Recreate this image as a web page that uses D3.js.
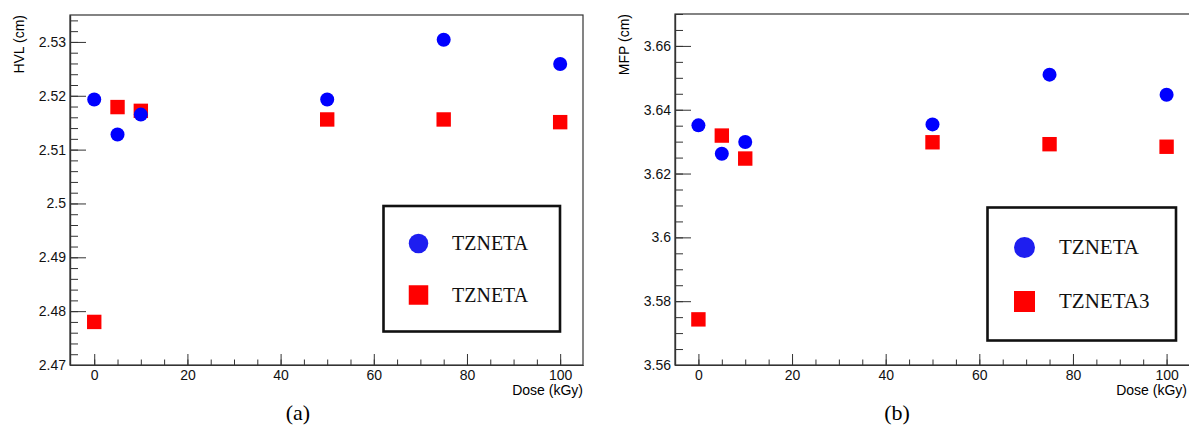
<!DOCTYPE html>
<html>
<head>
<meta charset="utf-8">
<script src="https://cdn.jsdelivr.net/npm/d3@7"></script>
<style>
  body { margin: 0; background: #fff; }
  svg { display: block; }
  .axis text { font-family: "Liberation Sans", Arial, sans-serif; font-size: 14px; fill: #111; }
  .axis path, .axis line { stroke: #333; }
</style>
</head>
<body>
<script>
// doses (kGy) where each sample was measured
var doses = [0, 5, 10, 50, 75, 100];

// panel (a) half value layer, cm
var hvlTzneta  = [2.5193, 2.5128, 2.5165, 2.5193, 2.5304, 2.5259];
var hvlTzneta3 = [2.4780, 2.5179, 2.5172, 2.5156, 2.5156, 2.5151];

// panel (b) mean free path, cm
var mfpTzneta  = [3.6351, 3.6262, 3.6299, 3.6354, 3.6510, 3.6447];
var mfpTzneta3 = [3.5743, 3.6319, 3.6247, 3.6298, 3.6292, 3.6284];

var doseTicks = [0, 20, 40, 60, 80, 100];
var hvlTicks  = [2.47, 2.48, 2.49, 2.50, 2.51, 2.52, 2.53];
var hvlLabels = ["2.47", "2.48", "2.49", "2.5", "2.51", "2.52", "2.53"];
var mfpTicks  = [3.56, 3.58, 3.60, 3.62, 3.64, 3.66];
var mfpLabels = ["3.56", "3.58", "3.6", "3.62", "3.64", "3.66"];

var legendA = ["TZNETA", "TZNETA"];
var legendB = ["TZNETA", "TZNETA3"];

var svg = d3.select("body").append("svg")
    .attr("width", 1189)
    .attr("height", 427);

var drawPanel = function(p)
{
  var x = d3.scaleLinear().domain(p.xDomain).range([p.left, p.right]);
  var y = d3.scaleLinear().domain(p.yDomain).range([p.bottom, p.top]);
  var g = svg.append("g");

  // frame
  g.append("rect")
    .attr("x", p.left)
    .attr("y", p.top)
    .attr("width", p.right - p.left)
    .attr("height", p.bottom - p.top)
    .attr("fill", "none")
    .attr("stroke", "#333")
    .attr("stroke-width", 1.2);

  // minor ticks first, then the labelled ones
  g.append("g").attr("class", "axis")
    .attr("transform", "translate(0," + p.bottom + ")")
    .call(d3.axisBottom(x).tickValues(d3.range(0, 101, 5))
      .tickSizeInner(-5.5).tickSizeOuter(0).tickFormat(""));
  g.append("g").attr("class", "axis")
    .attr("transform", "translate(0," + p.bottom + ")")
    .call(d3.axisBottom(x).tickValues(doseTicks)
      .tickSizeInner(-11).tickSizeOuter(0).tickPadding(5));

  g.append("g").attr("class", "axis")
    .attr("transform", "translate(" + p.left + ",0)")
    .call(d3.axisLeft(y).tickValues(p.minor)
      .tickSizeInner(-8).tickSizeOuter(0).tickFormat(""));
  g.append("g").attr("class", "axis")
    .attr("transform", "translate(" + p.left + ",0)")
    .call(d3.axisLeft(y).tickValues(p.yTicks)
      .tickSizeInner(-16).tickSizeOuter(0).tickPadding(4)
      .tickFormat(function(d, i) { return p.yLabels[i]; }));

  g.selectAll(".axis path").attr("stroke-width", 1.2);

  // axis titles
  g.append("text")
    .text("Dose (kGy)")
    .attr("x", p.right - p.xTitleShift)
    .attr("y", p.bottom + 30)
    .attr("text-anchor", "end")
    .style("font-family", "Liberation Sans, Arial, sans-serif")
    .style("font-size", "14px");

  g.append("text")
    .text(p.yTitle)
    .attr("transform", "translate(" + (p.left - 46) + "," + p.top + ") rotate(-90)")
    .attr("text-anchor", "end")
    .style("font-family", "Liberation Sans, Arial, sans-serif")
    .style("font-size", "14px");

  // squares (drawn under the circles)
  g.selectAll("rect.sq")
    .data(p.squares)
    .enter()
    .append("rect")
    .attr("class", "sq")
    .attr("x", function(d, i) { return x(doses[i]) - 7.2; })
    .attr("y", function(d) { return y(d) - 7.2; })
    .attr("width", 14.4)
    .attr("height", 14.4)
    .attr("fill", "#ff0000");

  g.selectAll("circle.pt")
    .data(p.circles)
    .enter()
    .append("circle")
    .attr("class", "pt")
    .attr("cx", function(d, i) { return x(doses[i]); })
    .attr("cy", function(d) { return y(d); })
    .attr("r", 7)
    .attr("fill", "#0000ff");

  // legend
  var L = p.legend;
  g.append("rect")
    .attr("x", L.x)
    .attr("y", L.y)
    .attr("width", L.w)
    .attr("height", L.h)
    .attr("fill", "#fff")
    .attr("stroke", "#111")
    .attr("stroke-width", 2.6);

  g.append("circle")
    .attr("cx", L.mx)
    .attr("cy", L.row1)
    .attr("r", L.ms / 2)
    .attr("fill", "#1e1ef0");
  g.append("rect")
    .attr("x", L.mx - L.ms / 2)
    .attr("y", L.row2 - L.ms / 2)
    .attr("width", L.ms)
    .attr("height", L.ms)
    .attr("fill", "#ff0000");

  g.selectAll("text.leg")
    .data(p.names)
    .enter()
    .append("text")
    .attr("class", "leg")
    .text(function(d) { return d; })
    .attr("x", L.tx)
    .attr("y", function(d, i) { return (i == 0 ? L.row1 : L.row2) + L.fs * 0.33; })
    .style("font-family", "Liberation Serif, Times New Roman, serif")
    .style("font-size", L.fs + "px")
    .attr("fill", "#111");

  // panel caption
  g.append("text")
    .text(p.caption)
    .attr("x", p.captionX)
    .attr("y", 420)
    .attr("text-anchor", "middle")
    .style("font-family", "Liberation Serif, Times New Roman, serif")
    .style("font-size", "22px");
};

drawPanel({
  left: 70, right: 583, top: 15, bottom: 365,
  xDomain: [-5.2, 104.9], yDomain: [2.47, 2.535],
  yTicks: hvlTicks, yLabels: hvlLabels,
  minor: d3.range(2.47, 2.5351, 0.002),
  yTitle: "HVL (cm)", xTitleShift: 0,
  circles: hvlTzneta, squares: hvlTzneta3,
  names: legendA,
  legend: { x: 383.5, y: 206, w: 176.5, h: 125.5, mx: 418.5, row1: 243.5, row2: 295, ms: 19.5, tx: 452, fs: 20 },
  caption: "(a)", captionX: 298
});

drawPanel({
  left: 675, right: 1190, top: 14, bottom: 365,
  xDomain: [-5, 105], yDomain: [3.56, 3.67],
  yTicks: mfpTicks, yLabels: mfpLabels,
  minor: d3.range(3.56, 3.6701, 0.005),
  yTitle: "MFP (cm)", xTitleShift: 3,
  circles: mfpTzneta, squares: mfpTzneta3,
  names: legendB,
  legend: { x: 987.5, y: 207.5, w: 188.5, h: 133, mx: 1024.5, row1: 247.5, row2: 301.5, ms: 21, tx: 1059, fs: 21 },
  caption: "(b)", captionX: 897
});
</script>
</body>
</html>
